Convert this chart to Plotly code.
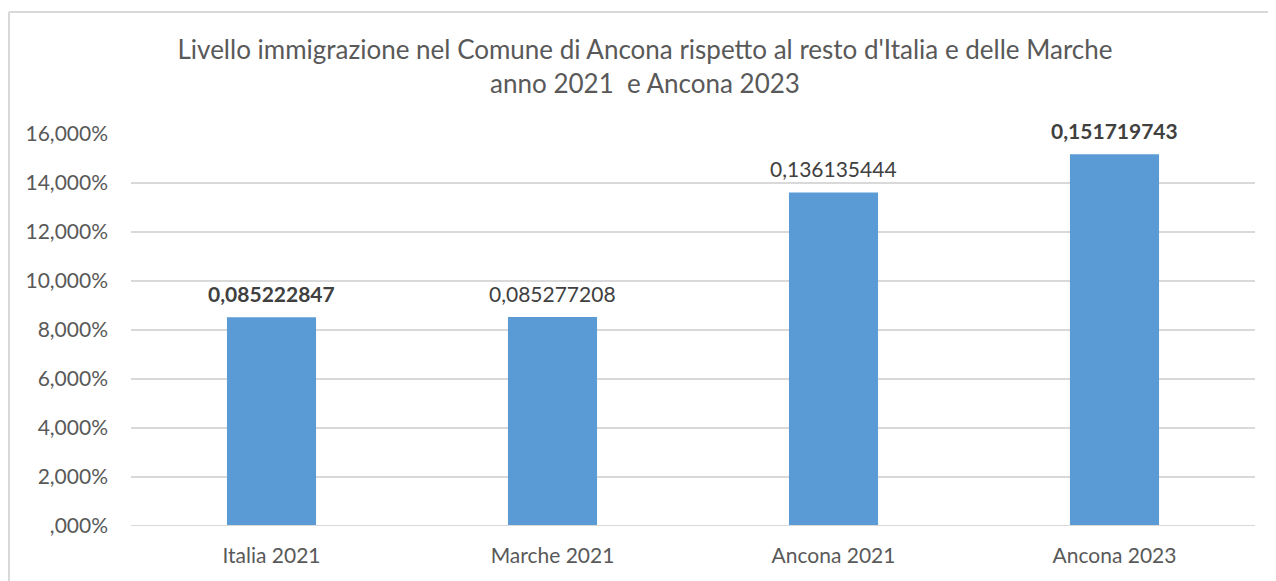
import plotly.graph_objects as go

categories = ["Italia 2021", "Marche 2021", "Ancona 2021", "Ancona 2023"]
values = [0.085222847, 0.085277208, 0.136135444, 0.151719743]
label_bold = [True, False, False, True]
tick_vals = [0, 0.02, 0.04, 0.06, 0.08, 0.10, 0.12, 0.14, 0.16]
tick_text = [",000%", "2,000%", "4,000%", "6,000%", "8,000%", "10,000%", "12,000%", "14,000%", "16,000%"]
title_lines = ["Livello immigrazione nel Comune di Ancona rispetto al resto d'Italia e delle Marche",
               "anno 2021  e Ancona 2023"]

FONT = "Lato"
OFF = 8  # page body margin offset
W, H = 1276, 581
L = 131 - OFF
T = 134 - OFF
R = W - (1255 - OFF)
B = H - (526 - OFF)
pw, ph = W - L - R, H - T - B

fig = go.Figure()
fig.add_trace(go.Bar(x=categories, y=values, marker=dict(color="#5B9BD5", line=dict(width=0)),
                     width=0.317, hoverinfo="skip"))

for c, v, b in zip(categories, values, label_bold):
    t = str(v).replace(".", ",")
    if b:
        t = "<b>" + t + "</b>"
    fig.add_annotation(x=c, y=v, text=t, showarrow=False, yanchor="bottom", yshift=9,
                       font=dict(family=FONT, size=21, color="#404040"))

# outer chart border (top and left only visible)
top_y = (H - B - (12 - OFF)) / ph
left_x = (1 - L) / pw
fig.add_shape(type="line", xref="paper", yref="paper",
              x0=left_x, x1=(W - L) / pw, y0=top_y, y1=top_y,
              line=dict(color="#D9D9D9", width=2))
fig.add_shape(type="line", xref="paper", yref="paper",
              x0=left_x, x1=left_x, y0=top_y, y1=-B / ph,
              line=dict(color="#D9D9D9", width=2))

fig.update_layout(
    width=W, height=H,
    margin=dict(l=L, r=R, t=T, b=B),
    paper_bgcolor="white", plot_bgcolor="white",
    title=dict(text="<br>".join(title_lines), x=(645 - OFF) / W, xanchor="center",
               y=1 - 51 / H, yanchor="middle",
               font=dict(family=FONT, size=26, color="#595959")),
    showlegend=False,
    xaxis=dict(showgrid=False, showline=False, ticks="", ticklabelstandoff=15,
               tickfont=dict(family=FONT, size=21, color="#595959")),
    yaxis=dict(range=[0, 0.16], tickvals=tick_vals, ticktext=tick_text,
               showgrid=True, gridcolor="#D9D9D9", gridwidth=2, zeroline=False,
               showline=False, ticks="", ticklabelstandoff=22,
               tickfont=dict(family=FONT, size=21, color="#595959")),
)
fig.add_hline(y=0, line=dict(color="#D9D9D9", width=2))
fig.write_html("out.html")
